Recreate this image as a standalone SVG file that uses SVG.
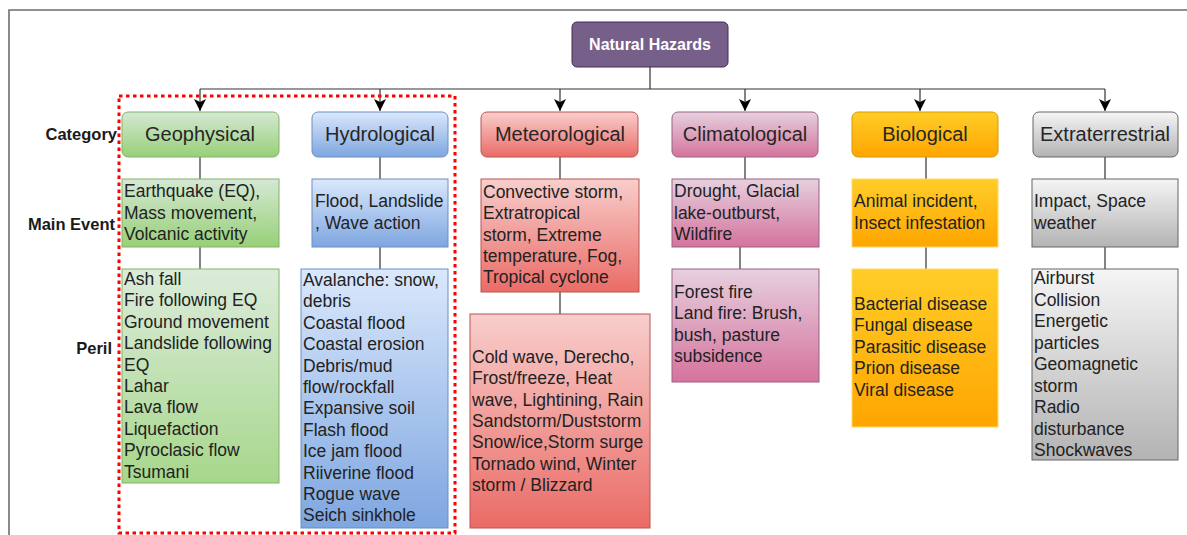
<svg xmlns="http://www.w3.org/2000/svg" width="1187" height="535" viewBox="0 0 1187 535">
<style>
.t{font-family:"Liberation Sans",Arial,sans-serif;font-size:17.5px;fill:#222}
.c{font-family:"Liberation Sans",Arial,sans-serif;font-size:20px;fill:#262626;text-anchor:middle}
.lbl{font-family:"Liberation Sans",Arial,sans-serif;font-size:16.5px;font-weight:bold;fill:#1a1a1a;text-anchor:end}
.ln{stroke:#333;stroke-width:1.2;fill:none}
</style>
<defs>
<linearGradient id="gGreen" x1="0" y1="0" x2="0" y2="1"><stop offset="0" stop-color="#d5e8d4"/><stop offset="1" stop-color="#97d077"/></linearGradient>
<linearGradient id="gBlue" x1="0" y1="0" x2="0" y2="1"><stop offset="0" stop-color="#dae8fc"/><stop offset="1" stop-color="#7ea6e0"/></linearGradient>
<linearGradient id="gRed" x1="0" y1="0" x2="0" y2="1"><stop offset="0" stop-color="#f8cecc"/><stop offset="1" stop-color="#ea6b66"/></linearGradient>
<linearGradient id="gPink" x1="0" y1="0" x2="0" y2="1"><stop offset="0" stop-color="#e6d0de"/><stop offset="1" stop-color="#d5739d"/></linearGradient>
<linearGradient id="gOrange" x1="0" y1="0" x2="0" y2="1"><stop offset="0" stop-color="#ffcd28"/><stop offset="1" stop-color="#ffa500"/></linearGradient>
<linearGradient id="gGray" x1="0" y1="0" x2="0" y2="1"><stop offset="0" stop-color="#f5f5f5"/><stop offset="1" stop-color="#b3b3b3"/></linearGradient>
<marker id="arr" markerUnits="userSpaceOnUse" markerWidth="12" markerHeight="12" refX="10" refY="5" orient="auto" viewBox="0 0 10 10">
<path d="M0,0 L10,5 L0,10 L2.5,5 Z" fill="#000"/>
</marker>
</defs>
<rect width="1187" height="535" fill="#fff"/>
<path d="M9,535 V10 H1187" stroke="#6e6e6e" stroke-width="1.6" fill="none"/>

<g id="connectors">
<path class="ln" d="M650,67 V89 M200,89 H1105"/>
<path class="ln" d="M200,89 V111" marker-end="url(#arr)"/>
<path class="ln" d="M380,89 V111" marker-end="url(#arr)"/>
<path class="ln" d="M560,89 V111" marker-end="url(#arr)"/>
<path class="ln" d="M745,89 V111" marker-end="url(#arr)"/>
<path class="ln" d="M920,89 V111" marker-end="url(#arr)"/>
<path class="ln" d="M1105,89 V111" marker-end="url(#arr)"/>
<path class="ln" d="M200,157 V179 M200,247 V269"/>
<path class="ln" d="M380,157 V179 M380,247 V269"/>
<path class="ln" d="M560,157 V179 M560,292 V314"/>
<path class="ln" d="M745,157 V179 M740,247 V269" stroke="#555"/>
<path class="ln" d="M926,157 V179 M926,247 V269"/>
<path class="ln" d="M1105,157 V179 M1105,247 V269"/>
</g>

<g id="natural-hazards">
<rect x="572" y="22" width="156" height="45" rx="5" fill="#76608a" stroke="#432d57" stroke-width="1"/>
<text x="650" y="50" font-family="'Liberation Sans',Arial,sans-serif" font-size="16" font-weight="bold" fill="#fff" text-anchor="middle">Natural Hazards</text>
</g>

<g id="labels">
<text class="lbl" x="117" y="140">Category</text>
<text class="lbl" x="115" y="230">Main Event</text>
<text class="lbl" x="112" y="354">Peril</text>
</g>

<g id="geophysical">
<rect x="122" y="112" width="157" height="45" rx="6" fill="url(#gGreen)" stroke="#82b366"/>
<text class="c" x="200" y="141">Geophysical</text>
</g>
<g id="geophysical-event">
<rect x="122" y="179" width="157" height="68" fill="url(#gGreen)" stroke="#82b366"/>
<text class="t"><tspan x="124" y="197">Earthquake (EQ),</tspan><tspan x="124" dy="21.5">Mass movement,</tspan><tspan x="124" dy="21.5">Volcanic activity</tspan></text>
</g>
<g id="geophysical-peril">
<rect x="122" y="269" width="157" height="214" fill="url(#gGreen)" stroke="#82b366" fill-opacity="0.85"/>
<text class="t"><tspan x="124" y="285">Ash fall</tspan><tspan x="124" dy="21.4">Fire following EQ</tspan><tspan x="124" dy="21.4">Ground movement</tspan><tspan x="124" dy="21.4">Landslide following</tspan><tspan x="124" dy="21.4">EQ</tspan><tspan x="124" dy="21.4">Lahar</tspan><tspan x="124" dy="21.4">Lava flow</tspan><tspan x="124" dy="21.4">Liquefaction</tspan><tspan x="124" dy="21.4">Pyroclasic flow</tspan><tspan x="124" dy="21.4">Tsumani</tspan></text>
</g>

<g id="hydrological">
<rect x="312" y="112" width="136" height="45" rx="6" fill="url(#gBlue)" stroke="#6c8ebf"/>
<text class="c" x="380" y="141">Hydrological</text>
</g>
<g id="hydrological-event">
<rect x="312" y="179" width="136" height="68" fill="url(#gBlue)" stroke="#6c8ebf"/>
<text class="t"><tspan x="315" y="207">Flood, Landslide</tspan><tspan x="315" dy="21.5">, Wave action</tspan></text>
</g>
<g id="hydrological-peril">
<rect x="301" y="269" width="147" height="259" fill="url(#gBlue)" stroke="#6c8ebf"/>
<text class="t"><tspan x="303" y="286">Avalanche: snow,</tspan><tspan x="303" dy="21.4">debris</tspan><tspan x="303" dy="21.4">Coastal flood</tspan><tspan x="303" dy="21.4">Coastal erosion</tspan><tspan x="303" dy="21.4">Debris/mud</tspan><tspan x="303" dy="21.4">flow/rockfall</tspan><tspan x="303" dy="21.4">Expansive soil</tspan><tspan x="303" dy="21.4">Flash flood</tspan><tspan x="303" dy="21.4">Ice jam flood</tspan><tspan x="303" dy="21.4">Riiverine flood</tspan><tspan x="303" dy="21.4">Rogue wave</tspan><tspan x="303" dy="21.4">Seich sinkhole</tspan></text>
</g>

<g id="meteorological">
<rect x="481" y="112" width="157" height="45" rx="6" fill="url(#gRed)" stroke="#b85450"/>
<text class="c" x="560" y="141">Meteorological</text>
</g>
<g id="meteorological-event">
<rect x="481" y="179" width="158" height="113" fill="url(#gRed)" stroke="#b85450"/>
<text class="t"><tspan x="483" y="198">Convective storm,</tspan><tspan x="483" dy="21.3">Extratropical</tspan><tspan x="483" dy="21.3">storm, Extreme</tspan><tspan x="483" dy="21.3">temperature, Fog,</tspan><tspan x="483" dy="21.3">Tropical cyclone</tspan></text>
</g>
<g id="meteorological-peril">
<rect x="470" y="314" width="180" height="214" fill="url(#gRed)" stroke="#b85450"/>
<text class="t"><tspan x="472" y="363">Cold wave, Derecho,</tspan><tspan x="472" dy="21.3">Frost/freeze, Heat</tspan><tspan x="472" dy="21.3">wave, Lightining, Rain</tspan><tspan x="472" dy="21.3">Sandstorm/Duststorm</tspan><tspan x="472" dy="21.3">Snow/ice,Storm surge</tspan><tspan x="472" dy="21.3">Tornado wind, Winter</tspan><tspan x="472" dy="21.3">storm / Blizzard</tspan></text>
</g>

<g id="climatological">
<rect x="672" y="112" width="146" height="45" rx="6" fill="url(#gPink)" stroke="#996185"/>
<text class="c" x="745" y="141">Climatological</text>
</g>
<g id="climatological-event">
<rect x="672" y="179" width="147" height="68" fill="url(#gPink)" stroke="#996185"/>
<text class="t"><tspan x="674" y="197">Drought, Glacial</tspan><tspan x="674" dy="21.5">lake-outburst,</tspan><tspan x="674" dy="21.5">Wildfire</tspan></text>
</g>
<g id="climatological-peril">
<rect x="672" y="269" width="147" height="113" fill="url(#gPink)" stroke="#996185"/>
<text class="t"><tspan x="674" y="298">Forest fire</tspan><tspan x="674" dy="21.4">Land fire: Brush,</tspan><tspan x="674" dy="21.4">bush, pasture</tspan><tspan x="674" dy="21.4">subsidence</tspan></text>
</g>

<g id="biological">
<rect x="852" y="112" width="146" height="45" rx="6" fill="url(#gOrange)" stroke="#d79b00"/>
<text class="c" x="925" y="141">Biological</text>
</g>
<g id="biological-event">
<rect x="852" y="179" width="146" height="68" fill="url(#gOrange)" stroke="#ffd966"/>
<text class="t"><tspan x="854" y="207">Animal incident,</tspan><tspan x="854" dy="21.5">Insect infestation</tspan></text>
</g>
<g id="biological-peril">
<rect x="852" y="269" width="146" height="158" fill="url(#gOrange)" stroke="#ffd966"/>
<text class="t"><tspan x="854" y="310">Bacterial disease</tspan><tspan x="854" dy="21.4">Fungal disease</tspan><tspan x="854" dy="21.4">Parasitic disease</tspan><tspan x="854" dy="21.4">Prion disease</tspan><tspan x="854" dy="21.4">Viral disease</tspan></text>
</g>

<g id="extraterrestrial">
<rect x="1033" y="112" width="145" height="45" rx="6" fill="url(#gGray)" stroke="#666"/>
<text class="c" x="1105" y="141">Extraterrestrial</text>
</g>
<g id="extraterrestrial-event">
<rect x="1032" y="179" width="146" height="68" fill="url(#gGray)" stroke="#666"/>
<text class="t"><tspan x="1034" y="207">Impact, Space</tspan><tspan x="1034" dy="21.5">weather</tspan></text>
</g>
<g id="extraterrestrial-peril">
<rect x="1032" y="269" width="146" height="191" fill="url(#gGray)" stroke="#666"/>
<text class="t"><tspan x="1034" y="284">Airburst</tspan><tspan x="1034" dy="21.5">Collision</tspan><tspan x="1034" dy="21.5">Energetic</tspan><tspan x="1034" dy="21.5">particles</tspan><tspan x="1034" dy="21.5">Geomagnetic</tspan><tspan x="1034" dy="21.5">storm</tspan><tspan x="1034" dy="21.5">Radio</tspan><tspan x="1034" dy="21.5">disturbance</tspan><tspan x="1034" dy="21.5">Shockwaves</tspan></text>
</g>

<g id="highlight">
<rect x="119" y="96" width="336" height="437" fill="none" stroke="#ff0000" stroke-width="3" stroke-dasharray="3.5 3.5"/>
</g>
</svg>
